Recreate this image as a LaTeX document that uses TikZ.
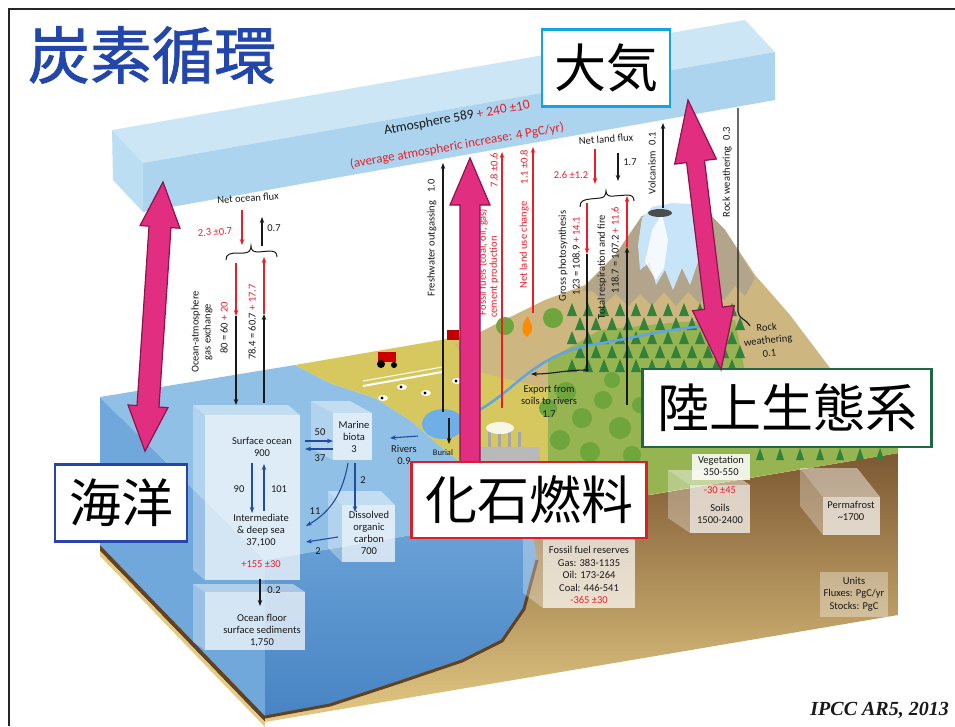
\documentclass[tikz,border=0pt]{standalone}
\usepackage{fontspec}
\setmainfont{Carlito}
\newfontfamily\jpfont{Noto Sans CJK JP}
\newfontfamily\jptitle[FakeBold=1.3]{Noto Sans CJK JP}
\newfontfamily\citefont{Liberation Serif}
\usetikzlibrary{calc,arrows.meta}

\definecolor{ink}{RGB}{25,25,25}
\definecolor{pinkA}{RGB}{226,46,128}
\definecolor{pinkE}{RGB}{140,20,75}
\definecolor{atmT}{RGB}{205,230,246}
\definecolor{atmF}{RGB}{172,212,238}
\definecolor{atmS}{RGB}{188,222,243}
\definecolor{oceanTopC}{RGB}{145,192,230}
\definecolor{oceanSideC}{RGB}{112,168,220}
\definecolor{oceanFT}{RGB}{108,164,216}
\definecolor{oceanFB}{RGB}{72,132,196}
\definecolor{floorBrown}{RGB}{95,65,35}
\definecolor{soilTop}{RGB}{125,88,50}
\definecolor{soilMid}{RGB}{196,162,100}
\definecolor{soilBot}{RGB}{228,202,132}
\definecolor{fieldY}{RGB}{214,200,95}
\definecolor{hillTan}{RGB}{205,182,128}
\definecolor{mtnGrey}{RGB}{178,165,140}
\definecolor{snowC}{RGB}{200,228,248}
\definecolor{forestG}{RGB}{150,180,82}
\definecolor{treeG}{RGB}{50,130,60}
\definecolor{decidG}{RGB}{110,165,60}
\definecolor{riverB}{RGB}{95,165,225}
\definecolor{lakeB}{RGB}{110,175,230}
\definecolor{titleblue}{RGB}{35,70,170}
\definecolor{fluxred}{RGB}{235,30,40}
\definecolor{cyanB}{RGB}{20,165,225}
\definecolor{umiB}{RGB}{40,70,170}
\definecolor{redB}{RGB}{220,30,40}
\definecolor{greenB}{RGB}{30,105,65}
\definecolor{arrowblue}{RGB}{35,75,160}

\tikzset{
  lbl/.style={font=\fontsize{10.5}{12}\selectfont, inner sep=0pt, align=center, text=ink},
  rlbl/.style={lbl, text=fluxred},
  flux/.style={draw=ink, line width=1.1pt, -{Stealth[length=6pt,width=4.5pt]}},
  fluxr/.style={flux, draw=fluxred},
  fluxb/.style={flux, draw=arrowblue},
  fluxline/.style={draw=ink, line width=1.1pt},
  bracepath/.style={draw=ink, line width=1pt},
  pinkarrow/.style={fill=pinkA, draw=pinkE, line width=1.2pt, line join=miter},
  jbox/.style={draw, fill=white, line width=2.6pt, font=\jpfont\fontsize{52}{52}\selectfont, text=black, inner sep=0pt},
  conifer/.style={fill=treeG},
  riverline/.style={draw=riverB, line width=2.5pt, line cap=round},
}

% big double arrow: #1 end A, #2 end B, #3 head length, #4 head half width, #5 shaft half width
\newcommand{\pinkdbl}[5]{%
  \coordinate (pdA) at ($(#1)!#3!(#2)$);
  \coordinate (pdB) at ($(#2)!#3!(#1)$);
  \filldraw[pinkarrow] (#1) -- ($(pdA)!#4!90:(#2)$) -- ($(pdA)!#5!90:(#2)$)
    -- ($(pdB)!#5!-90:(#1)$) -- ($(pdB)!#4!-90:(#1)$) -- (#2)
    -- ($(pdB)!#4!90:(#1)$) -- ($(pdB)!#5!90:(#1)$)
    -- ($(pdA)!#5!-90:(#2)$) -- ($(pdA)!#4!-90:(#2)$) -- cycle;}
% big single arrow: #1 tail, #2 tip
\newcommand{\pinksgl}[5]{%
  \coordinate (psC) at ($(#2)!#3!(#1)$);
  \filldraw[pinkarrow] ($(#1)!#5!90:(#2)$) -- ($(psC)!#5!-90:(#1)$) -- ($(psC)!#4!-90:(#1)$)
    -- (#2) -- ($(psC)!#4!90:(#1)$) -- ($(psC)!#5!90:(#1)$) -- ($(#1)!#5!-90:(#2)$) -- cycle;}
% translucent reservoir cube: front x1 y1 x2 y2, depth dx dy
\newcommand{\glassbox}[6]{%
  \fill[white, opacity=.7] (#1,#2) rectangle (#3,#4);
  \fill[white, opacity=.45] (#1,#2) -- ++(#5,#6) -- ($(#3,#2)+(#5,#6)$) -- (#3,#2) -- cycle;
  \fill[white, opacity=.3] (#1,#2) -- ++(#5,#6) -- ($(#1,#4)+(#5,#6)$) -- (#1,#4) -- cycle;}

\begin{document}
\begin{tikzpicture}[x=1pt,y=-1pt]
\useasboundingbox (0,0) rectangle (955,726);
\fill[white] (0,0) rectangle (955,726);
\draw[line width=1.6pt, draw=black!85] (9,726) -- (9,9) -- (955,9);

% ===== ground block =====
\fill[oceanSideC] (100,397) -- (265,560) -- (265,716) -- (100,545) -- cycle;
\fill[floorBrown] (100,545) -- (265,716) -- (265,722) -- (100,551) -- cycle;
\fill[soilBot] (100,551) -- (265,722) -- (265,727) -- (100,556) -- cycle;
\shade[top color=soilTop, middle color=soilMid, bottom color=soilBot]
  (265,560) -- (898,453) -- (898,615) -- (265,722) -- cycle;
\shade[top color=oceanFT, bottom color=oceanFB]
  (265,560) -- (530,515) -- (537,560) -- (524,608) -- (502,640) -- (462,660) -- (400,681) -- (330,704) -- (265,716) -- cycle;
\draw[floorBrown, line width=3pt] (265,717) -- (330,705) -- (400,682) -- (462,661) -- (502,641) -- (524,609) -- (537,560);
\fill[oceanTopC] (100,397) -- (295,365) -- (330,383) -- (375,398) -- (410,420) -- (445,450) -- (490,485) -- (530,515) -- (265,560) -- cycle;

% land surface
\fill[fieldY] (295,365) -- (733,290) -- (898,453) -- (530,515) -- (490,485) -- (445,450) -- (410,420) -- (375,398) -- (330,383) -- cycle;
\fill[hillTan] (455,345) -- (500,322) -- (545,300) -- (585,285) -- (615,255) -- (642,216) -- (700,204) -- (725,230) -- (755,275) -- (790,315) -- (830,368) -- (898,440) -- (898,453) -- (700,486) -- (600,420) -- (560,392) -- (520,382) -- (480,372) -- cycle;
\fill[mtnGrey] (582,290) -- (615,256) -- (642,216) -- (700,204) -- (725,230) -- (755,278) -- (745,296) -- (735,286) -- (724,300) -- (712,288) -- (700,304) -- (688,292) -- (676,306) -- (664,292) -- (652,306) -- (640,294) -- (628,306) -- (616,294) -- (604,304) -- (594,292) -- cycle;
\fill[snowC] (638,245) -- (642,218) -- (652,207) -- (672,203) -- (692,204) -- (706,218) -- (712,240) -- (705,275) -- (698,262) -- (690,285) -- (682,268) -- (673,290) -- (665,270) -- (656,285) -- (650,262) -- (640,270) -- cycle;
\fill[white, opacity=.8] (645,262) -- (652,230) -- (662,214) -- (668,240) -- (664,268) -- (656,280) -- cycle;
\fill[gray!60!black] (660,213) ellipse [x radius=12, y radius=4];
\fill[forestG] (548,360) -- (600,330) -- (680,322) -- (735,320) -- (745,372) -- (898,447) -- (898,453) -- (700,486) -- (647,495) -- (548,470) -- cycle;
\foreach \r in {0,...,4}{\foreach \c in {0,...,10}{%
  \pgfmathsetmacro\tx{572+16*\c+8*mod(\r,2)}
  \pgfmathsetmacro\ty{314+14*\r}
  \fill[conifer] (\tx,\ty-11) -- (\tx+5,\ty+2) -- (\tx-5,\ty+2) -- cycle;}}
\foreach \tx in {760,780,...,880}{\fill[conifer] (\tx,448) -- (\tx+4,460) -- (\tx-4,460) -- cycle;}
\foreach \tx/\ty/\tr in {548/408/9, 566/392/10, 582/418/10, 603/400/9, 620/428/11, 560/440/10, 590/452/10, 632/455/9, 612/380/8, 640/405/8, 505/326/9, 553/318/10}{%
  \fill[decidG] (\tx,\ty) circle (\tr);}
\fill[orange!90!yellow] (527,337) .. controls (519,331) and (523,322) .. (528,316) .. controls (530,324) and (537,328) .. (527,337);
\fill[lakeB] (443,424) ellipse [x radius=21, y radius=15];
\draw[riverline] (462,418) .. controls (485,410) and (505,392) .. (522,378) .. controls (535,368) and (555,352) .. (590,345) .. controls (625,340) and (660,330) .. (705,326);
\draw[white, line width=2pt] (363,386) -- (442,372);
\draw[white, line width=1pt] (363,381) -- (442,367);
\fill[red!80!black] (378,352) rectangle (396,362);
\fill[black] (381,364) circle (4);
\fill[black] (394,365) circle (3);
\fill[red!75!black] (447,330) rectangle (459,340);
\foreach \tx/\ty in {383/398, 402/387, 426/393, 457/381}{%
  \fill[white] (\tx,\ty) ellipse [x radius=5, y radius=3];
  \fill[black] (\tx-1,\ty) circle (1.6);}
\fill[gray!55] (480,447) rectangle (540,463);
\foreach \tx in {488,498,508,518}{\fill[gray!70] (\tx,432) rectangle (\tx+3,447);}
\fill[white, opacity=.85] (500,428) ellipse [x radius=14, y radius=6];

% ===== atmosphere bar =====
\fill[atmT] (112,130) -- (745,20) -- (775,52) -- (143,163) -- cycle;
\fill[atmF] (143,163) -- (775,52) -- (775,100) -- (143,212) -- cycle;
\fill[atmS] (112,130) -- (143,163) -- (143,212) -- (113,180) -- cycle;
\node[font=\fontsize{13.5}{14}\selectfont, text=ink, rotate=10, inner sep=0pt] (atmo1) at (457,118) {Atmosphere 589 {\color{fluxred}+ 240 ±10}};
\node[font=\fontsize{13}{14}\selectfont, text=fluxred, rotate=10, inner sep=0pt] (atmo2) at (457,146) {(average atmospheric increase: 4 PgC/yr)};

% ===== ocean fluxes =====
\node[lbl, rotate=4] (noflux) at (248,198) {Net ocean flux};
\node[rlbl, rotate=4] (no1) at (215,232) {2.3 ±0.7};
\node[lbl] (no2) at (274,228) {0.7};
\coordinate (noA1) at (242,210); \coordinate (noA2) at (242,245);
\draw[fluxr] (noA1) -- (noA2);
\coordinate (noB1) at (262,246); \coordinate (noB2) at (262,217);
\draw[flux] (noB1) -- (noB2);
\draw[bracepath] (226,260) .. controls (226,254) and (230,253) .. (238,253) -- (244,253) .. controls (249,253) and (251,250) .. (251,246) .. controls (251,250) and (253,252) .. (258,252) -- (270,251) .. controls (275,251) and (277,253) .. (277,257);
\coordinate (oa1) at (236,263); \coordinate (oa2) at (236,316); \coordinate (oa3) at (236,405);
\draw[fluxr] (oa1) -- (oa2);
\draw[flux] (oa2) -- (oa3);
\coordinate (ob1) at (264,403); \coordinate (ob2) at (264,314); \coordinate (ob3) at (264,257);
\draw[flux] (ob1) -- (ob2);
\draw[fluxr] (ob2) -- (ob3);
\node[lbl, rotate=90] (oagas) at (202,332) {Ocean-atmosphere\\gas exchange};
\node[lbl, rotate=90] (oa80) at (224,328) {80 = 60 {\color{fluxred}+ 20}};
\node[lbl, rotate=90] (oa78) at (252,322) {78.4 = 60.7 {\color{fluxred}+ 17.7}};

% ===== ocean reservoirs =====
\glassbox{205}{415}{300}{580}{-12}{-10}
\glassbox{205}{592}{305}{650}{-12}{-8}
\glassbox{333}{413}{372}{460}{-22}{-12}
\glassbox{342}{505}{395}{562}{-14}{-14}
\node[lbl] (surf) at (262,447) {Surface ocean\\900};
\node[lbl] (deep) at (261,531) {Intermediate\\\& deep sea\\37,100};
\node[rlbl] (deepc) at (261,564) {+155 ±30};
\node[lbl] (sed) at (262,631) {Ocean floor\\surface sediments\\1,750};
\node[lbl] (biota) at (354,437) {Marine\\biota\\3};
\node[lbl] (doc) at (369,533) {Dissolved\\organic\\carbon\\700};
\node[lbl] (rivers) at (404,455) {Rivers\\0.9};
\coordinate (s90a) at (252,463); \coordinate (s90b) at (252,513);
\draw[fluxb] (s90a) -- (s90b);
\coordinate (s101a) at (264,511); \coordinate (s101b) at (264,464);
\draw[fluxb] (s101a) -- (s101b);
\node[lbl] (l90) at (239,489) {90};
\node[lbl] (l101) at (279,489) {101};
\coordinate (b50a) at (305,441); \coordinate (b50b) at (333,441);
\draw[fluxb] (b50a) -- (b50b);
\coordinate (b37a) at (333,449); \coordinate (b37b) at (305,449);
\draw[fluxb] (b37a) -- (b37b);
\node[lbl] (l50) at (320,432) {50};
\node[lbl] (l37) at (320,458) {37};
\coordinate (rv1) at (418,436); \coordinate (rv2) at (390,438);
\draw[fluxb] (rv1) -- (rv2);
\coordinate (bd1) at (355,463); \coordinate (bd2) at (355,512);
\draw[fluxb] (bd1) -- (bd2);
\node[lbl] (l2a) at (363,480) {2};
\coordinate (b11a) at (348,463); \coordinate (b11b) at (306,526);
\draw[fluxb] (b11a) to[out=-100,in=30] (b11b);
\node[lbl] (l11) at (315,511) {11};
\coordinate (dd1) at (338,537); \coordinate (dd2) at (306,542);
\draw[fluxb] (dd1) -- (dd2);
\node[lbl] (l2b) at (318,551) {2};
\coordinate (sd1) at (260,579); \coordinate (sd2) at (260,606);
\draw[flux] (sd1) -- (sd2);
\node[lbl] (l02) at (274,590) {0.2};

% ===== land-side fluxes =====
\coordinate (fw1) at (443,412); \coordinate (fw2) at (443,163);
\draw[flux] (fw1) -- (fw2);
\node[lbl, rotate=90] (fwtxt) at (432,238) {Freshwater outgassing\hspace{8pt}1.0};
\coordinate (bu1) at (449,418); \coordinate (bu2) at (449,444);
\draw[flux] (bu1) -- (bu2);
\node[lbl, font=\fontsize{8.5}{9}\selectfont] (burial) at (443,453) {Burial};
\coordinate (ffa1) at (502,408); \coordinate (ffa2) at (502,152);
\draw[fluxr] (ffa1) -- (ffa2);
\node[rlbl, rotate=90] (ff1) at (483,262) {Fossil fuels (coal, oil, gas)};
\node[rlbl, rotate=90] (ff2) at (494,277) {cement production};
\node[rlbl, rotate=90] (ff3) at (494,170) {7.8 ±0.6};
\coordinate (lu1) at (533,313); \coordinate (lu2) at (533,147);
\draw[fluxr] (lu1) -- (lu2);
\node[rlbl, rotate=90] (lut1) at (524,245) {Net land use change};
\node[rlbl, rotate=90] (lut2) at (524,167) {1.1 ±0.8};
\node[lbl, rotate=4] (nlf) at (606,139) {Net land flux};
\node[rlbl] (nlf1) at (571,175) {2.6 ±1.2};
\node[lbl] (nlf2) at (630,162) {1.7};
\coordinate (nl1) at (595,149); \coordinate (nl2) at (595,184);
\draw[fluxr] (nl1) -- (nl2);
\coordinate (nl3) at (618,153); \coordinate (nl4) at (618,181);
\draw[flux] (nl3) -- (nl4);
\draw[bracepath] (580,207) .. controls (580,201) and (583,200) .. (590,199) -- (600,198) .. controls (604,198) and (606,195) .. (606,191) .. controls (606,195) and (609,197) .. (614,196) -- (627,195) .. controls (632,195) and (634,197) .. (634,201);
\coordinate (gp1a) at (587,203); \coordinate (gp1b) at (587,254); \coordinate (gp1c) at (587,370);
\draw[fluxr] (gp1a) -- (gp1b);
\draw[fluxline] (gp1b) -- (gp1c);
\fill[ink] (gp1c) circle (1.8);
\node[lbl, rotate=90] (gp1) at (563,256) {Gross photosynthesis};
\node[lbl, rotate=90] (gp2) at (576,256) {123 = 108.9 {\color{fluxred}+ 14.1}};
\coordinate (tr1a) at (627,405); \coordinate (tr1b) at (627,247); \coordinate (tr1c) at (627,196);
\draw[flux] (tr1a) -- (tr1b);
\draw[fluxr] (tr1b) -- (tr1c);
\node[lbl, rotate=90] (tr1) at (602,267) {Total respiration and fire};
\node[lbl, rotate=90] (tr2) at (615,250) {118.7 = 107.2 {\color{fluxred}+ 11.6}};
\coordinate (vo1) at (663,208); \coordinate (vo2) at (663,123);
\draw[flux] (vo1) -- (vo2);
\node[lbl, rotate=90] (volc) at (652,163) {Volcanism\hspace{6pt}0.1};
\coordinate (rw1) at (738,108); \coordinate (rw2) at (738,312); \coordinate (rw3) at (750,326);
\draw[fluxline] (rw1) -- (rw2) .. controls (740,320) and (745,318) .. (rw3);
\node[lbl, rotate=90] (rwt) at (727,172) {Rock weathering\hspace{6pt}0.3};
\node[lbl, font=\fontsize{10.5}{13}\selectfont, rotate=6] (rwt2) at (768,340) {Rock\\weathering\\0.1};
\coordinate (ex2) at (531,374);
\draw[flux] (gp1c) to[out=180,in=0] (ex2);
\node[lbl, font=\fontsize{10.5}{12.5}\selectfont] (export) at (549,401) {Export from\\soils to rivers\\1.7};

% ===== land reservoirs =====
\glassbox{690}{485}{750}{533}{-22}{-15}
\fill[white, opacity=.85] (692,454) rectangle (750,480);
\node[lbl] (veg) at (721,466) {Vegetation\\350-550};
\node[rlbl] (vegc) at (720,490) {-30 ±45};
\node[lbl] (soil) at (720,514) {Soils\\1500-2400};
\glassbox{823}{497}{880}{535}{-23}{-29}
\node[lbl] (perma) at (851,511) {Permafrost\\\textasciitilde 1700};
\glassbox{543}{540}{635}{608}{-20}{-15}
\node[lbl, font=\fontsize{10.5}{12.5}\selectfont] (fuel) at (589,575) {Fossil fuel reserves\\Gas: 383-1135\\Oil: 173-264\\Coal: 446-541\\{\color{fluxred}-365 ±30}};
\fill[white, opacity=.35] (820,572) rectangle (888,617);
\node[lbl, font=\fontsize{10.5}{12.5}\selectfont] (units) at (854,594) {Units\\Fluxes: PgC/yr\\Stocks: PgC};

% ===== pink arrows and labels =====
\coordinate (pkM1) at (470,469);
\coordinate (pkM2) at (470,158);
\pinksgl{pkM1}{pkM2}{47pt}{20pt}{10pt}
\node[jbox, draw=cyanB, minimum width=128pt, minimum height=77pt] (taiki) at (606,68) {大気};
\node[jbox, draw=umiB, minimum width=132pt, minimum height=77pt] (umi) at (121,503) {海洋};
\node[jbox, draw=greenB, minimum width=289pt, minimum height=78pt] (rikujo) at (787,408) {陸上生態系};
\node[jbox, draw=redB, minimum width=235pt, minimum height=76pt] (kaseki) at (529,500) {化石燃料};
\coordinate (pkL1) at (163,182);
\coordinate (pkL2) at ($(umi.north)+(24,-12)$);
\pinkdbl{pkL1}{pkL2}{45pt}{20pt}{11pt}
\coordinate (pkR1) at (688,100);
\coordinate (pkR2) at ($(rikujo.north)+(-66,2)$);
\pinkdbl{pkR1}{pkR2}{62pt}{21pt}{9pt}

% ===== title and source =====
\node[font=\jptitle\fontsize{62}{62}\selectfont, text=titleblue, inner sep=0pt] (title) at (152,55) {炭素循環};
\node[font=\citefont\bfseries\itshape\fontsize{20}{20}\selectfont, text=ink, anchor=east, inner sep=0pt] (cite) at (949,710) {IPCC AR5, 2013};
\end{tikzpicture}
\end{document}
